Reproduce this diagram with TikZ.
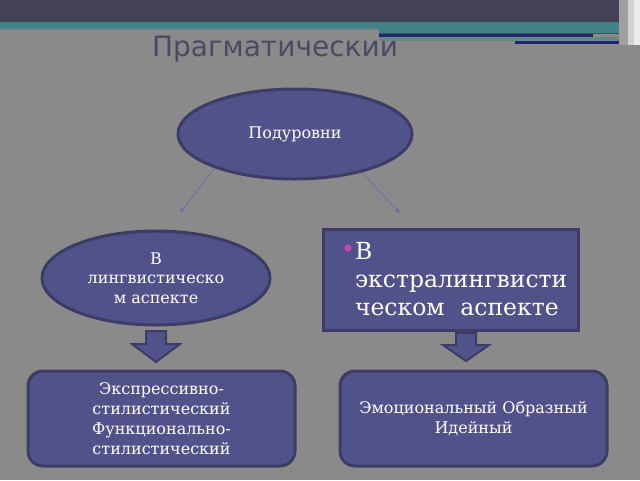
\documentclass[tikz,border=0pt]{standalone}
\usepackage{fontspec}
\setmainfont{DejaVu Serif}
\newfontfamily\titlefont{DejaVu Sans}
\usetikzlibrary{shapes.geometric,arrows.meta}
\definecolor{bgc}{HTML}{8A8A8A}
\definecolor{topband}{HTML}{424254}
\definecolor{teal}{HTML}{418287}
\definecolor{navyln}{HTML}{24246E}
\definecolor{nodefill}{HTML}{52528A}
\definecolor{nodeborder}{HTML}{3C3C64}
\definecolor{titlec}{HTML}{4A4A62}
\definecolor{connc}{HTML}{6E6EAE}
\definecolor{bulletc}{HTML}{C848B8}
\tikzset{
  ovalbox/.style={ellipse, draw=nodeborder, line width=3pt, fill=nodefill, text=white, inner sep=0pt, align=center, font=\fontsize{16}{19.5}\selectfont},
  rectbox/.style={rectangle, draw=nodeborder, line width=3pt, fill=nodefill, text=white, inner sep=0pt},
  roundbox/.style={rectangle, rounded corners=15pt, draw=nodeborder, line width=3pt, fill=nodefill, text=white, inner sep=0pt, align=center, font=\fontsize{16}{20}\selectfont},
  conn/.style={draw=connc, line width=0.8pt, -{Stealth[length=6pt,width=5pt]}},
  blockarrow/.style={draw=nodeborder, line width=2pt, fill=nodefill, line join=miter}
}
\begin{document}
\begin{tikzpicture}[x=1pt,y=-1pt]
\useasboundingbox (0,0) rectangle (640,480);
\fill[bgc] (0,0) rectangle (640,480);
% title
\node[text=titlec, font=\titlefont\fontsize{28}{32}\selectfont, anchor=base] (title) at (275,56) {Прагматический};
% header bands
\fill[topband] (0,0) rectangle (640,22);
\fill[teal] (0,22) rectangle (628,28);
\fill[teal] (379,22) rectangle (628,33);
\fill[teal!60!bgc] (0,28) rectangle (379,30);
\fill[topband!80!teal] (379,33) rectangle (628,34);
\fill[navyln] (379,34) rectangle (593,37);
\fill[teal!50!bgc] (379,37) rectangle (628,41);
\fill[navyln] (515,41) rectangle (628,44);
\fill[gray!75] (619,0) rectangle (628,45);
\fill[gray!35] (628,0) rectangle (634,45);
\fill[gray!15] (634,0) rectangle (640,45);
% nodes
\node[ovalbox, minimum width=234pt, minimum height=90pt] (pod) at (295,134) {Подуровни};
\node[ovalbox, minimum width=228pt, minimum height=94pt] (lin) at (156,278) {В\\лингвистическо\\м аспекте};
\node[rectbox, minimum width=255pt, minimum height=101pt, text width=219pt, align=left, font=\fontsize{23.5}{28}\selectfont] (ext) at (450.5,279.5)
  {\makebox[14pt][l]{\textcolor{bulletc}{\fontsize{24}{24}\selectfont\raisebox{2pt}{•}}}В\\\hspace*{14pt}экстралингвисти\\\hspace*{14pt}ческом\ \ аспекте};
\node[roundbox, minimum width=267pt, minimum height=95pt] (expr) at (161.5,418.5) {Экспрессивно-\\стилистический\\Функционально-\\стилистический};
\node[roundbox, minimum width=267pt, minimum height=95pt] (emo) at (473.5,418.5) {Эмоциональный Образный\\Идейный};
% thin connectors
\coordinate (la) at (180,213);
\coordinate (ra) at (400,213);
\draw[conn] (pod.203) -- (la);
\draw[conn] (pod.330) -- (ra);
% block arrows
\draw[blockarrow] (146,331) -- (166,331) -- (166,344) -- (180,344) -- (156,362) -- (132,344) -- (146,344) -- cycle;
\draw[blockarrow] (456,333) -- (476,333) -- (476,345) -- (489,345) -- (466,361) -- (443,345) -- (456,345) -- cycle;
\end{tikzpicture}
\end{document}
